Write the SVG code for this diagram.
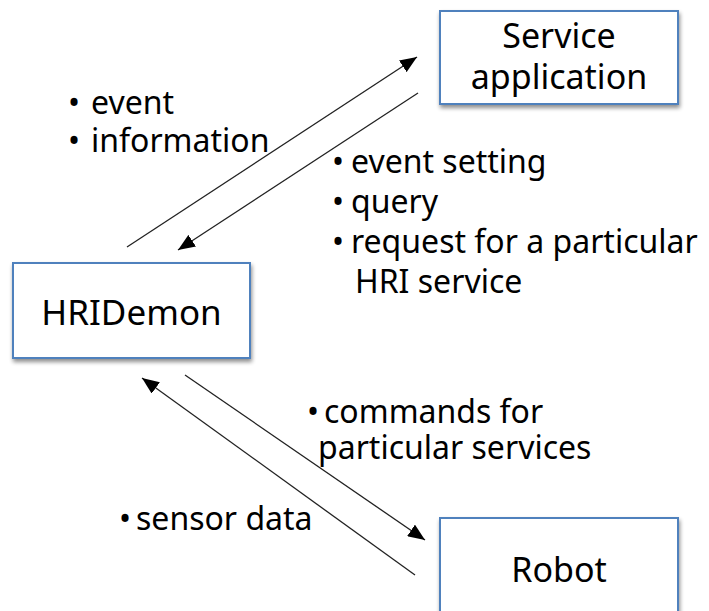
<svg xmlns="http://www.w3.org/2000/svg" width="709" height="611" viewBox="0 0 709 611">
  <style>
    .box { fill: #ffffff; stroke: #4f81bd; stroke-width: 2; filter: url(#shadow); }
    .node { font-family: "Noto Sans", "Open Sans", sans-serif; font-size: 34px; fill: #000000; text-anchor: middle; }
    .lbl { font-family: "Noto Sans", "Open Sans", sans-serif; font-size: 32px; fill: #000000; }
    .conn { stroke: #222222; stroke-width: 1.3; fill: none; marker-end: url(#arrow); }
  </style>
  <defs>
    <filter id="shadow" x="-10%" y="-10%" width="125%" height="130%">
      <feGaussianBlur in="SourceAlpha" stdDeviation="2"/>
      <feOffset dx="1" dy="3" result="b"/>
      <feComponentTransfer><feFuncA type="linear" slope="0.45"/></feComponentTransfer>
      <feMerge><feMergeNode/><feMergeNode in="SourceGraphic"/></feMerge>
    </filter>
    <marker id="arrow" markerUnits="userSpaceOnUse" markerWidth="18" markerHeight="14" refX="17" refY="7" orient="auto">
      <path d="M0,0 L17,7 L0,14 z" fill="#000000"/>
    </marker>
  </defs>
  <rect width="709" height="611" fill="#ffffff"/>

  <g id="connectors">
    <line class="conn" x1="127" y1="247" x2="417" y2="57"/>
    <line class="conn" x1="418" y1="93" x2="178" y2="250"/>
    <line class="conn" x1="415" y1="575" x2="142" y2="378"/>
    <line class="conn" x1="185" y1="375" x2="425" y2="540"/>
  </g>

  <g id="service-application">
    <rect class="box" x="440" y="11" width="238" height="93"/>
    <text class="node" x="559" y="48">Service</text>
    <text class="node" x="559" y="89">application</text>
  </g>

  <g id="hridemon">
    <rect class="box" x="13" y="263" width="237" height="95"/>
    <text class="node" x="131.5" y="325" style="font-size:35px">HRIDemon</text>
  </g>

  <g id="robot">
    <rect class="box" x="440" y="518" width="238" height="110"/>
    <text class="node" x="559" y="582">Robot</text>
  </g>

  <g id="labels">
    <text class="lbl"><tspan x="68" y="114">•</tspan><tspan x="91" y="114">event</tspan></text>
    <text class="lbl"><tspan x="68" y="152">•</tspan><tspan x="91" y="152">information</tspan></text>

    <text class="lbl"><tspan x="332" y="173">•</tspan><tspan x="351" y="173">event setting</tspan></text>
    <text class="lbl"><tspan x="332" y="213">•</tspan><tspan x="351" y="213">query</tspan></text>
    <text class="lbl"><tspan x="332" y="253">•</tspan><tspan x="351" y="253">request for a particular</tspan></text>
    <text class="lbl" x="355" y="293">HRI service</text>

    <text class="lbl"><tspan x="307" y="423">•</tspan><tspan x="324" y="423">commands for</tspan></text>
    <text class="lbl" x="318" y="459">particular services</text>

    <text class="lbl"><tspan x="119" y="530">•</tspan><tspan x="136" y="530">sensor data</tspan></text>
  </g>
</svg>
